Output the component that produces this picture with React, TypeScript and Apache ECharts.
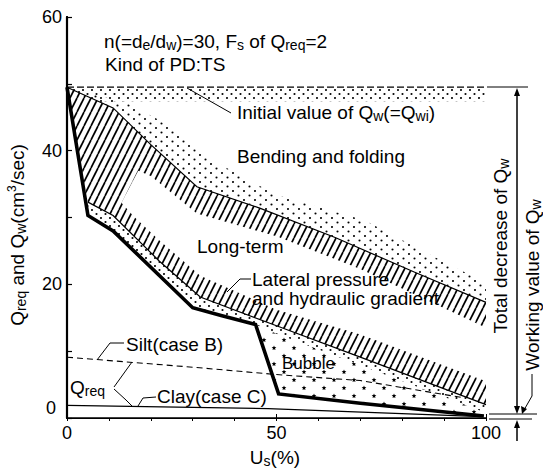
import React, { useEffect, useRef } from 'react';
import * as echarts from 'echarts';

const FONT = '"Liberation Sans", Arial, Helvetica, sans-serif';

// ---- data: x = Us (%), y = Q (cm3/sec) ----
const xTicks = [0, 50, 100];
const yTicks = [0, 20, 40, 60];

const initialQw = [[0, 49.5], [100, 49.5]];
const bendingLine = [[0, 49.5], [11, 46.4], [20, 40.9], [31, 34.6], [46, 31.4], [64, 27.0], [83, 21.8], [100, 17.3]];
const lateralLine = [[5, 32.3], [11, 30.3], [22, 23.5], [31.8, 18.1], [50, 13.8], [70, 9.1], [100, 2.0]];
const workingLine = [[0, 49.5], [5, 30.3], [11, 28.0], [30, 16.5], [37, 15.3], [45, 14.0], [50.5, 3.6], [70, 2.2], [99.5, 0.3]];
const siltReq = [[0, 9.1], [30, 7.6], [50, 6.5], [70, 5.6], [94, 3.1]];
const clayReq = [[0, 1.9], [48, 1.4], [99, 0.2]];

// band boundaries
const dotsTopBand = [[0, 49.5], [100, 49.5], [100, 47.4], [6.5, 47.4]];
const dotsBendTop = [[3, 49.0], [14, 47.2], [22, 44.6], [35, 38.5], [45, 35.0], [51, 33.2], [71, 29.6], [87, 24.3], [100, 20.2]];
const lowerBend = [[17, 37.0], [20, 36.2], [31, 30.6], [46, 27.9], [50, 27.2], [70, 22.3], [100, 13.5]];
const upperLateral = [[13, 32.2], [16, 30.1], [22, 26.6], [31.8, 21.3], [50, 16.2], [70, 12.5], [100, 5.5]];
const bubbleTop = [[45, 14.0], [50, 12.6], [70, 7.9], [100, 0.8]];

function makeCanvas(w: number, h: number) {
  const c = document.createElement('canvas');
  c.width = w;
  c.height = h;
  return c;
}

function dotPattern(w: number, h: number, pts: number[][], r: number) {
  const c = makeCanvas(w, h);
  const ctx = c.getContext('2d')!;
  ctx.fillStyle = '#000';
  pts.forEach(([x, y]) => {
    ctx.beginPath();
    ctx.arc(x, y, r, 0, Math.PI * 2);
    ctx.fill();
  });
  return { image: c, repeat: 'repeat', imageWidth: w, imageHeight: h };
}

function hatchPattern() {
  const w = 7, h = 14;
  const c = makeCanvas(w, h);
  const ctx = c.getContext('2d')!;
  ctx.strokeStyle = '#000';
  ctx.lineWidth = 1.7;
  [-w, 0, w].forEach((dx) => {
    ctx.beginPath();
    ctx.moveTo(dx, h);
    ctx.lineTo(dx + w, 0);
    ctx.stroke();
  });
  return { image: c, repeat: 'repeat', imageWidth: w, imageHeight: h };
}

function starPattern() {
  const w = 20, h = 16;
  const c = makeCanvas(w, h);
  const ctx = c.getContext('2d')!;
  ctx.fillStyle = '#000';
  const star = (cx: number, cy: number, R: number) => {
    ctx.beginPath();
    for (let i = 0; i < 10; i++) {
      const rr = i % 2 === 0 ? R : R * 0.45;
      const a = -Math.PI / 2 + (i * Math.PI) / 5;
      const x = cx + rr * Math.cos(a);
      const y = cy + rr * Math.sin(a);
      if (i === 0) ctx.moveTo(x, y);
      else ctx.lineTo(x, y);
    }
    ctx.closePath();
    ctx.fill();
  };
  star(4, 4, 2.5);
  star(14, 12, 2.5);
  return { image: c, repeat: 'repeat', imageWidth: w, imageHeight: h };
}

function bandSeries(pts: number[][], fill: any) {
  return {
    type: 'custom',
    silent: true,
    clip: true,
    z: 1,
    data: pts,
    encode: { x: 0, y: 1 },
    renderItem: (params: any, api: any) => {
      if (params.dataIndex !== 0) return null;
      const points = pts.map((p) => api.coord(p));
      return { type: 'polygon', shape: { points }, style: { fill, stroke: null } };
    },
  };
}

function lineSeries(data: number[][], width: number, dashed?: number[]) {
  return {
    type: 'line',
    data,
    symbol: 'none',
    silent: true,
    z: 3,
    lineStyle: { color: '#000', width, type: dashed || 'solid', cap: 'butt', join: 'miter' },
  };
}

const subS = { fontSize: 14, lineHeight: 12, verticalAlign: 'bottom', fontFamily: FONT, fill: '#000' };
const supS = { fontSize: 12, lineHeight: 12, verticalAlign: 'top', fontFamily: FONT, fill: '#000' };

function label(text: string, x: number, y: number, o: any = {}) {
  return {
    type: 'text',
    x,
    y,
    z: 100,
    rotation: o.rotation || 0,
    style: {
      text,
      fill: '#000',
      fontSize: o.fontSize || 19,
      fontFamily: FONT,
      lineHeight: 22,
      rich: { s: subS, p: supS },
      align: o.align || 'left',
      verticalAlign: 'middle',
    },
  };
}

function seg(points: number[][], lw = 1) {
  return { type: 'polyline', z: 100, shape: { points }, style: { stroke: '#000', lineWidth: lw, fill: null } };
}

function tri(points: number[][]) {
  return { type: 'polygon', z: 100, shape: { points }, style: { fill: '#000', stroke: null } };
}

function buildOption() {
  const hatchPoly = [
    ...bendingLine,
    ...lowerBend.slice().reverse(),
    ...upperLateral,
    ...lateralLine.slice().reverse(),
  ];
  const dotsBendPoly = [...dotsBendTop, ...bendingLine.slice().reverse()];
  const dotsLateralPoly = [
    ...lateralLine,
    ...bubbleTop.slice().reverse(),
    ...workingLine.filter((p) => p[0] > 0 && p[0] < 45).reverse(),
  ];
  const starsPoly = [...bubbleTop, ...workingLine.filter((p) => p[0] >= 45).reverse()];

  const dots = dotPattern(9, 8, [[2, 2], [6.5, 6]], 1.05);
  const dotsSparse = dotPattern(11, 9, [[2, 2], [7.5, 6.5]], 1.05);

  const axisCommon = {
    splitLine: { show: false },
    axisLine: { show: true, lineStyle: { color: '#000', width: 1.5 } },
  };

  return {
    animation: false,
    backgroundColor: '#fff',
    grid: { left: 67, right: 57, top: 17, bottom: 54 },
    xAxis: [
      {
        type: 'value', min: 0, max: 100, interval: 50, position: 'bottom',
        ...axisCommon,
        axisTick: { show: true, inside: true, length: 4, lineStyle: { color: '#000', width: 1 } },
        axisLabel: {
          color: '#000', fontSize: 18, fontFamily: FONT, margin: 6,
          formatter: (v: number) => (xTicks.includes(v) ? String(v) : ''),
        },
      },
      {
        type: 'value', min: 0, max: 100, interval: 10, position: 'top',
        ...axisCommon,
        axisLine: { show: true, lineStyle: { color: '#000', width: 1.2 } },
        axisTick: { show: true, inside: true, length: 3, lineStyle: { color: '#000', width: 1 } },
        axisLabel: { show: false },
      },
    ],
    yAxis: [
      {
        type: 'value', min: 0, max: 60, interval: 10, position: 'left',
        ...axisCommon,
        axisLine: { show: true, lineStyle: { color: '#000', width: 2.2 } },
        axisTick: { show: true, inside: true, length: 5, lineStyle: { color: '#000', width: 1.2 } },
        axisLabel: {
          color: '#000', fontSize: 18, fontFamily: FONT, margin: 5,
          formatter: (v: number) => (v !== 0 && yTicks.includes(v) ? String(v) : ''),
        },
      },
      {
        type: 'value', min: 0, max: 60, position: 'right',
        ...axisCommon,
        axisLine: { show: true, lineStyle: { color: '#000', width: 2 } },
        axisTick: { show: false },
        axisLabel: { show: false },
      },
    ],
    series: [
      bandSeries(dotsTopBand, dots),
      bandSeries(dotsBendPoly, dotsSparse),
      bandSeries(hatchPoly, hatchPattern()),
      bandSeries(dotsLateralPoly, dots),
      bandSeries(starsPoly, starPattern()),
      lineSeries(initialQw, 1.2, [7, 3]),
      lineSeries(bendingLine, 1.2),
      lineSeries(lateralLine, 1.2),
      lineSeries(workingLine, 3.6),
      lineSeries(siltReq, 1.1, [6, 4]),
      lineSeries(clayReq, 1.2),
    ],
    graphic: {
      elements: [
        label('n(=d{s|e}/d{s|w})=30, F{s|s} of Q{s|req}=2', 104, 41),
        label('Kind of PD:TS', 105, 64),
        label('Initial value of Q{s|w}(=Q{s|wi})', 237, 112),
        seg([[187, 88], [231, 113]]),
        label('Bending and folding', 237, 156),
        label('Long-term', 197, 246),
        label('Lateral pressure', 252, 279),
        label('and hydraulic gradient', 252, 298),
        seg([[227, 292], [240, 279], [251, 279]]),
        label('Bubble', 282, 363, { fontSize: 17 }),
        label('Silt(case B)', 126, 344),
        seg([[97, 360], [110, 343], [124, 343]]),
        label('Q{s|req}', 70, 387),
        seg([[114, 387], [132, 362]]),
        seg([[114, 389], [126, 400], [132, 406]]),
        label('Clay(case C)', 157, 396),
        seg([[138, 406], [143, 398], [156, 397]]),
        label('0', 56, 408, { fontSize: 18, align: 'right' }),
        label('U{s|s}(%)', 275, 457, { align: 'center' }),
        label('Q{s|req} and Q{s|w}(cm{p|3}/sec)', 17, 235, { align: 'center', rotation: Math.PI / 2 }),
        label('Total decrease of Q{s|w}', 500, 246, { align: 'center', rotation: Math.PI / 2 }),
        label('Working value of Q{s|w}', 532, 285, { align: 'center', rotation: Math.PI / 2 }),
        seg([[487, 87], [528, 87]]),
        seg([[517, 94], [517, 408]], 1.5),
        tri([[517, 88], [514, 96], [520, 96]]),
        tri([[517, 414], [514, 406], [520, 406]]),
        seg([[489, 414], [537, 414]]),
        seg([[489, 419], [532, 419]]),
        seg([[517, 426], [517, 441]], 1.5),
        tri([[517, 420], [514, 428], [520, 428]]),
        seg([[532, 374], [532, 396], [524, 410]]),
        tri([[522, 414], [521, 406], [527, 409]]),
      ],
    },
  };
}

export default function App() {
  const ref = useRef<HTMLDivElement>(null);
  useEffect(() => {
    const chart = echarts.init(ref.current!, null, { renderer: 'svg' });
    chart.setOption(buildOption() as any);
    return () => chart.dispose();
  }, []);
  return (
    <div
      ref={ref}
      style={{ position: 'fixed', left: 0, top: 0, width: 543, height: 472, background: '#fff' }}
    />
  );
}
